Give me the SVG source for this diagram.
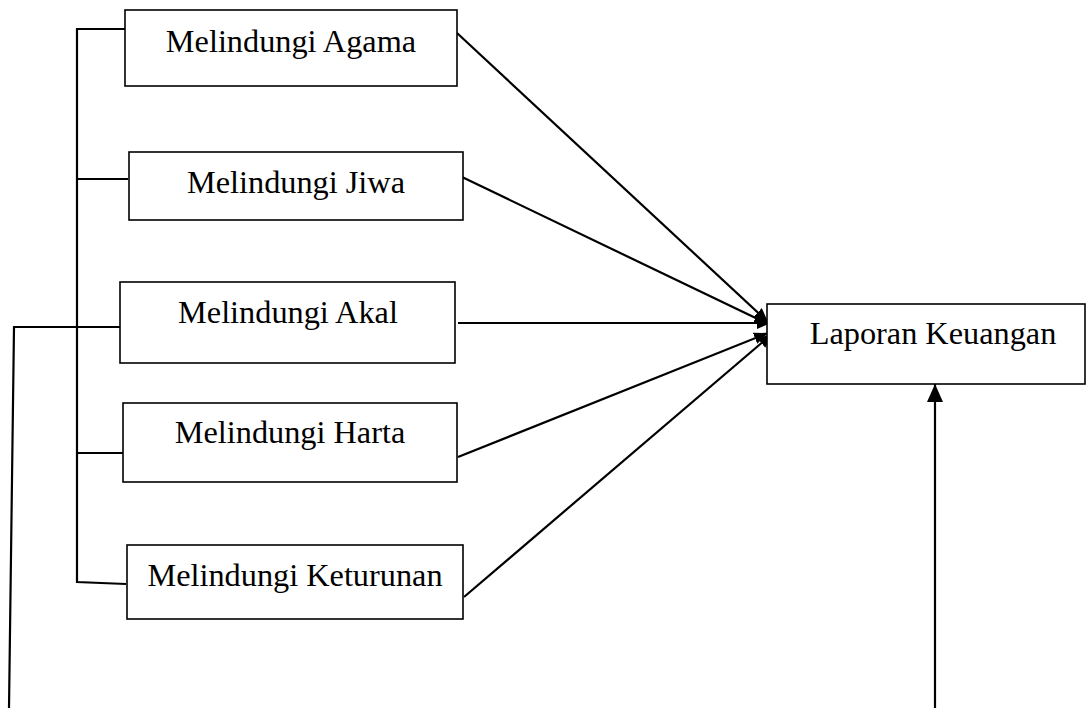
<svg xmlns="http://www.w3.org/2000/svg" width="1088" height="708" viewBox="0 0 1088 708">
<defs>
<style>
.box{fill:#fff;stroke:#000;stroke-width:1.6}
.t{font-family:"Liberation Serif","Times New Roman",serif;font-size:32.3px;fill:#000;text-anchor:middle}
.ln{fill:none;stroke:#000;stroke-width:2.2}
</style>
<marker id="ah" markerUnits="userSpaceOnUse" markerWidth="16" markerHeight="14" refX="14" refY="6" orient="auto">
<path d="M0,0 L14,6 L0,12 Z" fill="#000"/>
</marker>
<marker id="ahu" markerUnits="userSpaceOnUse" markerWidth="20" markerHeight="18" refX="18" refY="8" orient="auto">
<path d="M0,0 L18,8 L0,16 Z" fill="#000"/>
</marker>
</defs>
<rect width="1088" height="708" fill="#fff"/>
<g id="connectors">
<polyline class="ln" points="125,29 77,29 77,582 126,584"/>
<line class="ln" x1="77" y1="179" x2="128" y2="179"/>
<line class="ln" x1="77" y1="453" x2="127" y2="453"/>
<polyline class="ln" points="9,708 14,327 125,327"/>
<line class="ln" x1="457" y1="33" x2="768" y2="322" marker-end="url(#ah)"/>
<line class="ln" x1="462" y1="177" x2="768" y2="324" marker-end="url(#ah)"/>
<line class="ln" x1="458" y1="323" x2="771" y2="323" marker-end="url(#ah)"/>
<line class="ln" x1="458" y1="457" x2="768" y2="333" marker-end="url(#ah)"/>
<line class="ln" x1="464" y1="597" x2="772" y2="334" marker-end="url(#ah)"/>
<line class="ln" x1="935" y1="708" x2="935" y2="384" marker-end="url(#ahu)"/>
</g>
<g id="agama"><rect class="box" x="125" y="10" width="332" height="76"/><text class="t" x="291" y="52">Melindungi Agama</text></g>
<g id="jiwa"><rect class="box" x="129" y="152" width="334" height="68"/><text class="t" x="296" y="193">Melindungi Jiwa</text></g>
<g id="akal"><rect class="box" x="120" y="282" width="335" height="81"/><text class="t" x="288" y="323">Melindungi Akal</text></g>
<g id="harta"><rect class="box" x="123" y="403" width="334" height="79"/><text class="t" x="290" y="443">Melindungi Harta</text></g>
<g id="keturunan"><rect class="box" x="127" y="545" width="336" height="74"/><text class="t" x="295" y="586">Melindungi Keturunan</text></g>
<g id="laporan"><rect class="box" x="767" y="304" width="318" height="80"/><text class="t" x="933" y="344">Laporan Keuangan</text></g>
</svg>
